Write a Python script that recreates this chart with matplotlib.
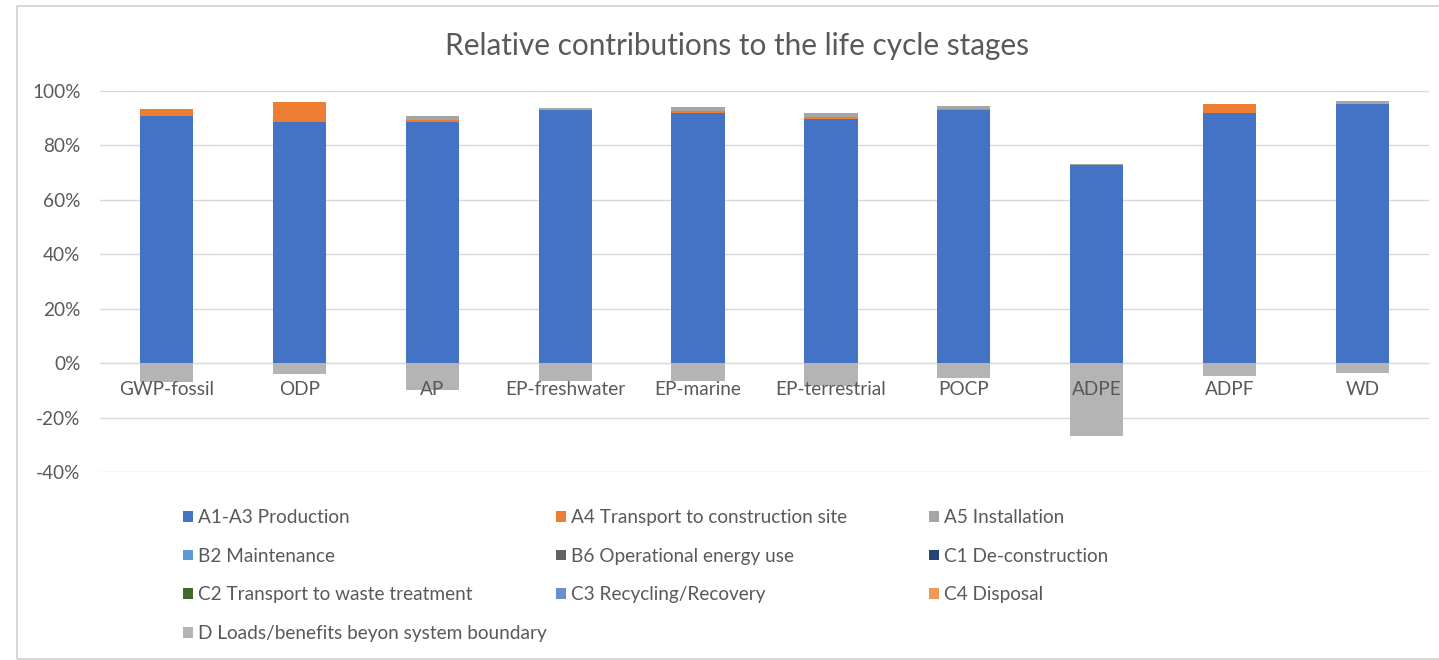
import numpy as np
import matplotlib
matplotlib.use("Agg")
import matplotlib.pyplot as plt
from matplotlib.patches import Rectangle
from matplotlib.ticker import FuncFormatter

plt.rcParams['font.family'] = ['Lato', 'DejaVu Sans']

categories = ['GWP-fossil', 'ODP', 'AP', 'EP-freshwater', 'EP-marine',
              'EP-terrestrial', 'POCP', 'ADPE', 'ADPF', 'WD']

# contributions in % per stage
a1_a3 = [90.7, 88.7, 88.7, 93.2, 92.0, 89.6, 92.9, 72.7, 92.0, 95.1]
a4 = [2.6, 7.3, 0.8, 0.0, 0.8, 0.9, 0.6, 0.0, 3.1, 0.0]
a5 = [0.0, 0.0, 1.3, 0.4, 1.2, 1.3, 1.1, 0.5, 0.0, 1.3]
b2 = [0.0] * 10
b6 = [0.0] * 10
c1 = [0.0] * 10
c2 = [0.0] * 10
c3 = [0.0] * 10
c4 = [0.0] * 10
d = [-6.8, -4.0, -9.8, -6.4, -6.4, -8.3, -5.3, -26.6, -4.9, -3.7]

series = [
    ('A1-A3 Production', a1_a3, '#4472C4'),
    ('A4 Transport to construction site', a4, '#ED7D31'),
    ('A5 Installation', a5, '#A5A5A5'),
    ('B2 Maintenance', b2, '#5B9BD5'),
    ('B6 Operational energy use', b6, '#636363'),
    ('C1 De-construction', c1, '#264478'),
    ('C2 Transport to waste treatment', c2, '#43682B'),
    ('C3 Recycling/Recovery', c3, '#698ED0'),
    ('C4 Disposal', c4, '#F1975A'),
    ('D Loads/benefits beyon system boundary', d, '#B4B4B4'),
]

text_col = '#595959'
grid_col = '#D9D9D9'

fig = plt.figure(figsize=(14.39, 6.60), dpi=100)
fig.patches.append(Rectangle((17 / 1439, 1 / 660), 1.0, 653 / 660, transform=fig.transFigure,
                             fill=False, edgecolor='#D0D0D0', linewidth=1.2))

ax = fig.add_axes([100 / 1439, (660 - 472) / 660, 1329 / 1439, 381 / 660])

x = np.arange(len(categories))
pos_bottom = np.zeros(len(categories))
neg_bottom = np.zeros(len(categories))
handles = {}
for name, vals, col in series:
    v = np.array(vals) / 100.0
    bottom = np.where(v >= 0, pos_bottom, neg_bottom)
    h = ax.bar(x, v, width=0.4, bottom=bottom, color=col, label=name, zorder=3)
    handles[name] = h
    pos_bottom += np.where(v > 0, v, 0)
    neg_bottom += np.where(v < 0, v, 0)

ax.set_xlim(-0.5, len(categories) - 0.5)
ax.set_ylim(-0.4, 1.0)
ax.set_yticks(np.arange(-0.4, 1.01, 0.2))
ax.yaxis.set_major_formatter(FuncFormatter(lambda v, p: f'{v * 100:.0f}%'))
ax.grid(axis='y', color=grid_col, linewidth=1.0, zorder=0)
for s in ['top', 'right', 'left']:
    ax.spines[s].set_visible(False)
ax.spines['bottom'].set_position(('data', 0))
ax.spines['bottom'].set_color(grid_col)
ax.set_xticks(x)
ax.set_xticklabels(categories)
ax.xaxis.set_zorder(5)
ax.tick_params(axis='x', length=0, pad=13, labelsize=13.7, labelcolor=text_col)
ax.tick_params(axis='y', length=0, pad=14, labelsize=13.7, labelcolor=text_col)

fig.text(0.512, 1 - 46 / 660, 'Relative contributions to the life cycle stages',
         ha='center', va='center', fontsize=21.4, color=text_col)

columns = [
    (183, ['A1-A3 Production', 'B2 Maintenance', 'C2 Transport to waste treatment',
           'D Loads/benefits beyon system boundary']),
    (556, ['A4 Transport to construction site', 'B6 Operational energy use',
           'C3 Recycling/Recovery']),
    (929, ['A5 Installation', 'C1 De-construction', 'C4 Disposal']),
]
for xpix, names in columns:
    leg = fig.legend([handles[n] for n in names], names, loc='upper left',
                     bbox_to_anchor=(xpix / 1439, 1 - 509 / 660), frameon=False,
                     fontsize=13.7, handlelength=0.5, handleheight=0.5,
                     handletextpad=0.3, labelspacing=1.14, borderpad=0, borderaxespad=0)
    for t in leg.get_texts():
        t.set_color(text_col)

fig.savefig('out.png', dpi=100)
